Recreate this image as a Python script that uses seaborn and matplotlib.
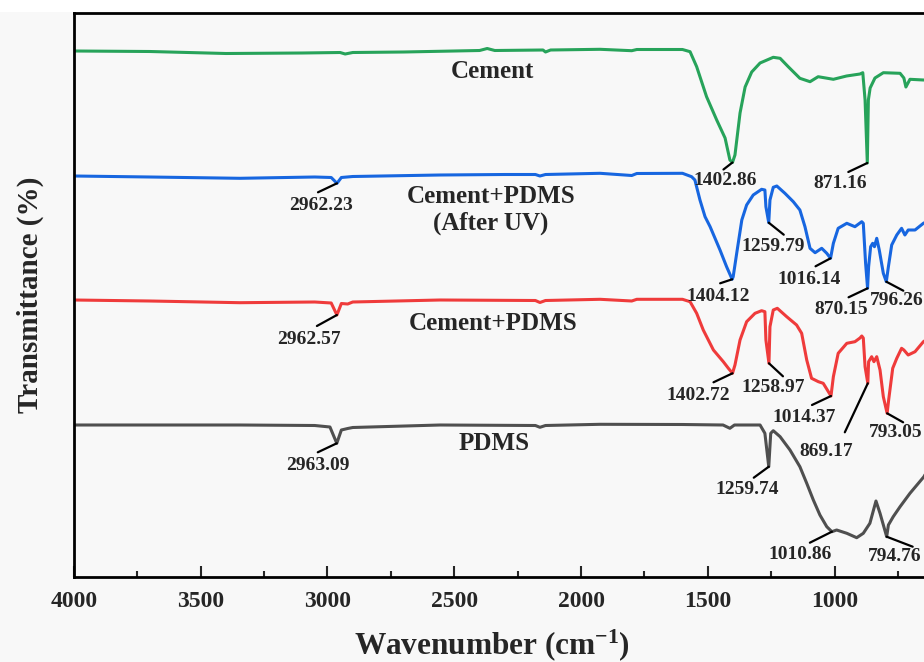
import numpy as np
import pandas as pd
import matplotlib
matplotlib.use("Agg")
import matplotlib.pyplot as plt
from matplotlib.patches import Rectangle
import seaborn as sns

# ---------------- data ----------------
cement_wn = [4000, 3700, 3400, 3100, 2950, 2930, 2900, 2700, 2400, 2370, 2340, 2150, 2140, 2120,
             1925, 1800, 1780, 1600, 1570, 1544, 1505, 1465, 1432, 1413, 1402.86, 1393, 1373, 1353,
             1327, 1294, 1242, 1215, 1183, 1137, 1097, 1065, 1005, 953, 900, 889, 880, 871.16, 867,
             860, 841, 808, 742, 727, 719, 703, 650, 640]
cement_T = [526, 525.5, 523.5, 524, 524.5, 523, 524.5, 525, 526.5, 528.5, 526.5, 527, 525, 527,
            527.7, 526.3, 527.5, 527.5, 525.3, 510.3, 480.3, 457, 439, 417, 414.5, 422, 464, 490,
            505, 514, 519.7, 518.7, 510.3, 498.7, 495.3, 500.3, 497.7, 501, 503, 504.3, 477, 414, 477,
            489, 499, 504.3, 503.7, 499, 490, 497.7, 497, 497]

uv_wn = [4000, 3700, 3345, 3050, 2985, 2962.23, 2945, 2900, 2556, 2300, 2180, 2162, 2140, 1925,
         1800, 1780, 1600, 1564, 1551, 1531, 1511, 1491, 1452, 1426, 1404.12, 1400, 1386, 1366,
         1347, 1321, 1288, 1275, 1271, 1259.79, 1255, 1242, 1228, 1196, 1163, 1137, 1117, 1097,
         1077, 1051, 1031, 1016.14, 1005, 986, 952, 920, 893, 887, 878, 870.15, 866, 858, 850, 843,
         834, 824, 808, 796.26, 788, 775, 755, 736, 723, 710, 683, 650, 640]
uv_T = [401, 400, 398.7, 400, 399.5, 393.7, 399.5, 400.5, 402, 402.5, 402.5, 401, 402.5, 403.7,
        401.5, 403.5, 403.7, 400.3, 397, 377, 360.3, 350.3, 327, 310.3, 297.7, 300.3, 324, 357,
        372, 382, 387.7, 387, 370.3, 354.3, 377, 389.7, 391, 383.7, 375.3, 367, 350.3, 328.7,
        324.3, 328.7, 323.7, 318.7, 333.7, 348.7, 353.7, 350.3, 355.3, 353.7, 314, 288.7, 310.3,
        330.3, 333.7, 330.3, 338.7, 327, 303.7, 295.3, 310.3, 332, 342, 348.7, 342, 347, 347,
        353.7, 355]

pd_wn = [4000, 3700, 3345, 3050, 2985, 2962.57, 2945, 2920, 2900, 2556, 2180, 2162, 2140, 1925,
         1800, 1780, 1600, 1570, 1544, 1518, 1478, 1439, 1419, 1402.72, 1393, 1373, 1347, 1314,
         1288, 1275, 1271, 1258.97, 1255, 1242, 1226, 1189, 1150, 1130, 1110, 1091, 1064, 1045,
         1014.37, 1005, 986, 952, 920, 900, 893, 887, 880, 869.17, 866, 854, 845, 834, 821, 808,
         793.05, 787, 771, 755, 736, 727, 710, 683, 650, 640]
pd_T = [277, 276, 274.3, 275, 274, 262, 273.5, 273, 275, 277, 276.5, 274.5, 276.5, 277.7,
        276, 277.7, 277.7, 275.3, 263.7, 247, 227, 215.3, 208.7, 203.7, 212, 237, 255.3, 263.7,
        266.3, 265.3, 237, 213.7, 250.3, 267, 268.7, 260.3, 252, 243.7, 217, 198.7, 195.3, 193.7,
        181, 200.3, 223.7, 233.7, 235.3, 239, 241, 239, 210.3, 193.7, 215.3, 220.3, 215.3, 220.3,
        207, 180.3, 163.7, 177, 208.7, 218.7, 228.7, 227, 222, 225.3, 235.3, 237]

pdms_wn = [4000, 3700, 3345, 3050, 2990, 2963.09, 2945, 2920, 2900, 2556, 2180, 2162, 2140, 1925,
           1600, 1440, 1413, 1395, 1294, 1275, 1259.74, 1252, 1242, 1215, 1176, 1137, 1110, 1084,
           1058, 1031, 1010.86, 992, 952, 913, 887, 861, 837, 821, 794.76, 788, 769, 742, 703,
           648, 640]
pdms_T = [152, 152, 152, 151.5, 150, 133.7, 147, 148.5, 149.5, 152, 151.5, 149.7, 151.5, 152.7,
          152.5, 152, 148.7, 152, 152, 143.7, 110.3, 143.7, 146.3, 140.3, 127, 110.3, 93.7, 77,
          62, 50.3, 45.3, 47, 43.7, 39.3, 43.7, 53.7, 76, 63.7, 40.3, 52, 60.3, 70.3, 83.7,
          100.3, 104]

series_names = ["Cement", "Cement+PDMS\n(After UV)", "Cement+PDMS", "PDMS"]
series_colors = ["#27a35a", "#1766e0", "#ef3b3b", "#4f4f4f"]

# peak labels: series index, label text
peak_series = [0, 0, 1, 1, 1, 1, 1, 1, 2, 2, 2, 2, 2, 2, 3, 3, 3, 3]
peak_labels = ["1402.86", "871.16",
               "2962.23", "1404.12", "1259.79", "1016.14", "870.15", "796.26",
               "2962.57", "1402.72", "1258.97", "1014.37", "869.17", "793.05",
               "2963.09", "1259.74", "1010.86", "794.76"]
# leader-line end and text-centre offsets (pixels, right / down from the peak)
leader_off = [(-9, 7), (-19, 9),
              (-19, 9), (-12, 4), (15, 12), (-15, 8), (-19, 9), (17, 9),
              (-20, 11), (-19, 9), (14, 13), (-19, 9), (-23, 49), (16, 9),
              (-19, 9), (-15, 11), (-22, 11), (26, 10)]
text_off = [(-7, 16), (-27, 19),
            (-16, 20), (-14, 15), (4, 22), (-21, 19), (-26, 19), (10, 17),
            (-28, 22), (-34, 20), (4, 22), (-27, 19), (-42, 66), (9, 17),
            (-19, 20), (-22, 21), (-32, 21), (8, 18)]

# series name label positions (wavenumber, value)
name_wn = [2350, 2356, 2347, 2343]
name_T = [505, 367, 254, 133]

xticks = [4000, 3500, 3000, 2500, 2000, 1500, 1000]

# ---------------- build long table ----------------
all_wn = [cement_wn, uv_wn, pd_wn, pdms_wn]
all_T = [cement_T, uv_T, pd_T, pdms_T]
frames = []
for name, w, t in zip(series_names, all_wn, all_T):
    frames.append(pd.DataFrame({"wavenumber": w, "T": t, "sample": name}))
df = pd.concat(frames, ignore_index=True)

# ---------------- style ----------------
sns.set_style("ticks")
plt.rcParams["font.family"] = ["Liberation Serif", "DejaVu Serif"]
plt.rcParams["font.weight"] = "bold"
plt.rcParams["mathtext.fontset"] = "custom"
plt.rcParams["mathtext.rm"] = "Liberation Serif:bold"
plt.rcParams["mathtext.bf"] = "Liberation Serif:bold"
plt.rcParams["mathtext.it"] = "Liberation Serif:bold:italic"

W, H = 924, 662
fig = plt.figure(figsize=(W / 100, H / 100), dpi=100, facecolor="#f8f8f8")
fig.add_artist(Rectangle((0, 1 - 12 / H), 1, 12 / H, transform=fig.transFigure,
                         facecolor="white", edgecolor="none", zorder=-5))
ax = fig.add_axes([73.8 / W, (H - 577) / H, 913 / W, 564 / H])
ax.set_facecolor("#f8f8f8")

sns.lineplot(data=df, x="wavenumber", y="T", hue="sample",
             palette=dict(zip(series_names, series_colors)),
             hue_order=series_names, estimator=None, sort=True,
             linewidth=2.2, legend=False, ax=ax)

ax.set_xticks(xticks)
ax.set_xticklabels([str(v) for v in xticks])
ax.set_xticks([v - 250 for v in xticks], minor=True)
ax.set_yticks([])
ax.set_xlim(4000, 400)
ax.set_ylim(0, 564)
ax.tick_params(axis="x", which="major", direction="in", length=8, width=1.5,
               labelsize=17, pad=10, top=False)
ax.tick_params(axis="x", which="minor", direction="in", length=4, width=1.5, top=False)
for s in ax.spines.values():
    s.set_linewidth(2.0)
    s.set_color("black")
for lab in ax.get_xticklabels():
    lab.set_fontweight("bold")

ax.set_xlabel("Wavenumber (cm$^{-1}$)", fontsize=22.5, fontweight="bold")
ax.xaxis.label.set_verticalalignment("center")
ax.xaxis.set_label_coords(0.458, -0.121)
ax.set_ylabel("Transmittance (%)", fontsize=21, fontweight="bold")
ax.yaxis.label.set_verticalalignment("center")
ax.yaxis.set_label_coords(-0.048, 0.5)

# series names
for name, wx, ty in zip(series_names, name_wn, name_T):
    ax.text(wx, ty, name, ha="center", va="center", fontsize=18,
            fontweight="bold", multialignment="center", linespacing=1.2)

# peak annotations
for si, lab, lo, to in zip(peak_series, peak_labels, leader_off, text_off):
    wn = float(lab)
    w_arr = np.array(all_wn[si][::-1], dtype=float)
    t_arr = np.array(all_T[si][::-1], dtype=float)
    yv = float(np.interp(wn, w_arr, t_arr))
    ax.annotate("", xy=(wn, yv), xytext=(lo[0], -lo[1]), textcoords="offset pixels",
                arrowprops=dict(arrowstyle="-", lw=1.6, color="black",
                                shrinkA=0, shrinkB=0), annotation_clip=False)
    ax.annotate(lab, xy=(wn, yv), xytext=(to[0], -to[1]), textcoords="offset pixels",
                ha="center", va="center_baseline", fontsize=14, fontweight="bold",
                annotation_clip=False)

fig.savefig("out.png", dpi=100, facecolor=fig.get_facecolor())
